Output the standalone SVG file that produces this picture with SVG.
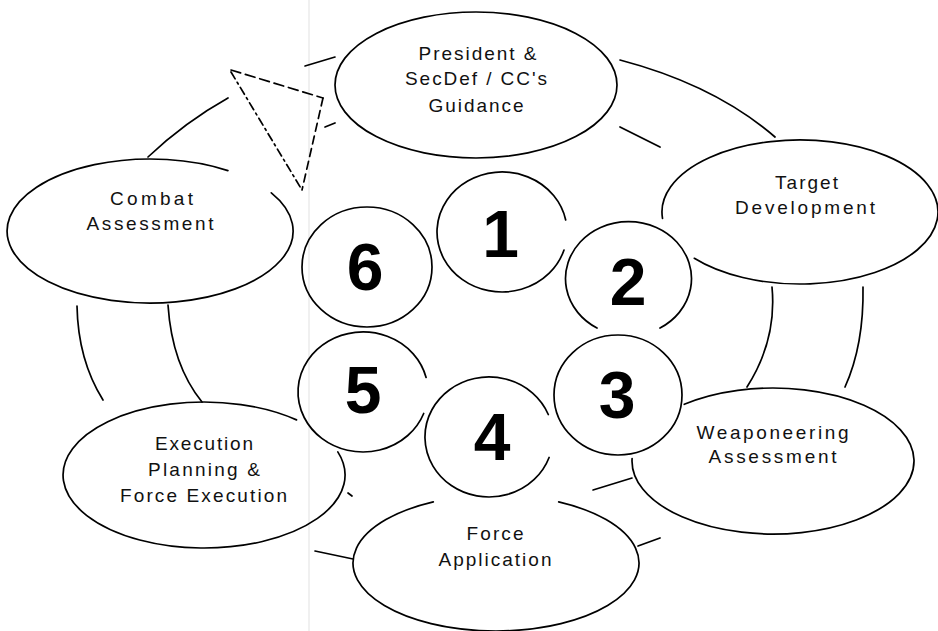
<svg xmlns="http://www.w3.org/2000/svg" width="938" height="631" viewBox="0 0 938 631">
  <style>
    .ln { fill: none; stroke: #000; stroke-width: 1.7; stroke-linecap: round; }
    .lbl { font-family: "Liberation Sans", Arial, sans-serif; font-size: 19px; fill: #111; text-anchor: middle; }
    .num { font-family: "Liberation Sans", Arial, sans-serif; font-size: 66px; font-weight: bold; fill: #000; text-anchor: middle; }
    .dash1 { stroke-dasharray: 10 5; }
    .dash2 { stroke-dasharray: 8 4 2 4; }
    .dash3 { stroke-dasharray: 8 5; }
  </style>
  <rect width="938" height="631" fill="#fff"/>
  <!-- faint fold line of the sheet -->
  <line x1="309" y1="0" x2="309" y2="631" stroke="#f0f0f0" stroke-width="2"/>

  <!-- outer cycle connectors -->
  <g id="connectors">
    <path class="ln" d="M148 157 Q185 122 228 98"/>
    <path class="ln" d="M305 66 L335 57"/>
    <path class="ln" d="M620 60 Q715 85 775 137"/>
    <path class="ln" d="M620 127 L660 147"/>
    <path class="ln" d="M772 287 Q777 340 747 387"/>
    <path class="ln" d="M863 287 Q864 345 845 387"/>
    <path class="ln" d="M593 490 L632 478"/>
    <path class="ln" d="M638 546 L660 538"/>
    <path class="ln" d="M315 551 L353 559"/>
    <path class="ln" d="M348 493 L352 496"/>
    <path class="ln" d="M77 306 Q78 360 103 400"/>
    <path class="ln" d="M168 305 Q172 365 202 402"/>
    <path class="ln" d="M325 127 L335 123"/>
    <!-- dashed feedback triangle -->
    <path class="ln dash1" d="M231 70 L323 98"/>
    <path class="ln dash2" d="M231 72 L302 190"/>
    <path class="ln dash3" d="M323 98 L302 190"/>
  </g>

  <!-- stage ellipses -->
  <g id="guidance">
    <ellipse class="ln" cx="476" cy="85" rx="141" ry="73"/>
    <text class="lbl" x="477.5" y="60" textLength="118" lengthAdjust="spacing">President &amp;</text>
    <text class="lbl" x="476" y="85" textLength="142" lengthAdjust="spacing">SecDef / CC's</text>
    <text class="lbl" x="476" y="112" textLength="95" lengthAdjust="spacing">Guidance</text>
  </g>
  <g id="target-development">
    <path class="ln" d="M662.5 218.3 A138 72 0 1 1 694.3 258.3"/>
    <text class="lbl" x="806.5" y="188.5" textLength="63" lengthAdjust="spacing">Target</text>
    <text class="lbl" x="805" y="213.5" textLength="140" lengthAdjust="spacing">Development</text>
  </g>
  <g id="weaponeering-assessment">
    <path class="ln" d="M684.3 404.3 A141 73 0 1 1 632.1 458.5"/>
    <text class="lbl" x="772.5" y="439" textLength="152" lengthAdjust="spacing">Weaponeering</text>
    <text class="lbl" x="772.5" y="463" textLength="128" lengthAdjust="spacing">Assessment</text>
  </g>
  <g id="force-application">
    <path class="ln" d="M558.7 501.9 A143 68 0 1 1 433.3 501.9"/>
    <text class="lbl" x="495" y="540" textLength="57" lengthAdjust="spacing">Force</text>
    <text class="lbl" x="495" y="566" textLength="113" lengthAdjust="spacing">Application</text>
  </g>
  <g id="execution-planning">
    <path class="ln" d="M337.8 451.9 A141 73 0 1 1 296.5 419.9"/>
    <text class="lbl" x="204" y="450" textLength="98" lengthAdjust="spacing">Execution</text>
    <text class="lbl" x="204" y="476" textLength="112" lengthAdjust="spacing">Planning &amp;</text>
    <text class="lbl" x="203.5" y="502" textLength="167" lengthAdjust="spacing">Force Execution</text>
  </g>
  <g id="combat-assessment">
    <path class="ln" d="M271.3 192.8 A143 72 0 1 1 227.9 170.6"/>
    <text class="lbl" x="151.5" y="205" textLength="83" lengthAdjust="spacing">Combat</text>
    <text class="lbl" x="150" y="230" textLength="127" lengthAdjust="spacing">Assessment</text>
  </g>

  <!-- numbered phase circles -->
  <g id="phase-1">
    <path class="ln" d="M564 250 A65 60 0 1 1 565.7 220"/>
    <text class="num" x="500.5" y="257">1</text>
  </g>
  <g id="phase-2">
    <path class="ln" d="M597 328 A63 57 0 1 1 660 328"/>
    <text class="num" x="628" y="305">2</text>
  </g>
  <g id="phase-3">
    <ellipse class="ln" cx="618" cy="395" rx="64" ry="60"/>
    <text class="num" x="617" y="418">3</text>
  </g>
  <g id="phase-4">
    <path class="ln" d="M549.1 457.5 A64 60 0 1 1 548.3 414.5"/>
    <text class="num" x="492" y="460">4</text>
  </g>
  <g id="phase-5">
    <path class="ln" d="M423.7 413.5 A65 60 0 1 1 426.1 377.5"/>
    <text class="num" x="363" y="413">5</text>
  </g>
  <g id="phase-6">
    <ellipse class="ln" cx="367" cy="267" rx="65" ry="60"/>
    <text class="num" x="365" y="290">6</text>
  </g>
</svg>
